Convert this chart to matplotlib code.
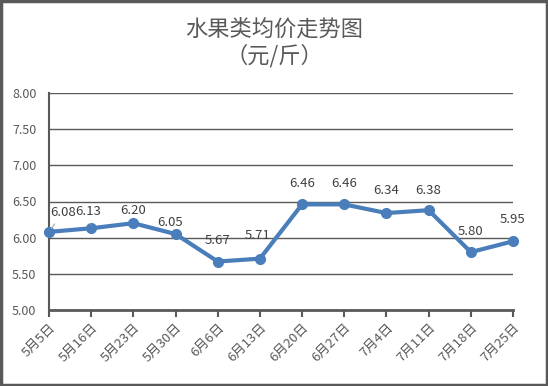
import matplotlib
matplotlib.use("Agg")
import matplotlib.pyplot as plt
from matplotlib.patches import Rectangle

plt.rcParams['font.family'] = ['Noto Sans CJK SC', 'DejaVu Sans']

dates = ["5月5日", "5月16日", "5月23日", "5月30日", "6月6日", "6月13日",
         "6月20日", "6月27日", "7月4日", "7月11日", "7月18日", "7月25日"]
prices = [6.08, 6.13, 6.20, 6.05, 5.67, 5.71, 6.46, 6.46, 6.34, 6.38, 5.80, 5.95]
# label offsets in points (hand placed like the original)
label_off = [(10, 14), (-2, 12), (0, 9), (-4, 8), (0, 15), (-2, 17),
             (0, 15), (0, 15), (0, 16), (0, 14), (0, 15), (0, 16)]

GREY = "#595959"
BLUE = "#4A7EBB"

fig = plt.figure(figsize=(5.48, 3.86), dpi=100)
ax = fig.add_axes([49 / 548, 1 - 310 / 386, (513 - 49) / 548, (310 - 93) / 386])

x = list(range(len(dates)))
ax.plot(x, prices, color=BLUE, lw=3, marker="o", ms=7, zorder=3, clip_on=False)

for i, (v, off) in enumerate(zip(prices, label_off)):
    arrow = None
    if i in (0, 1):
        arrow = dict(arrowstyle="-", color="#A6A6A6", lw=0.8, shrinkA=2, shrinkB=3)
    ax.annotate(f"{v:.2f}", (i, v), xytext=off, textcoords="offset points",
                ha="center", va="center", fontsize=9.5, color="#404040",
                arrowprops=arrow, zorder=4)

ax.set_xlim(0, len(dates) - 1)
ax.set_ylim(5.0, 8.0)
ax.set_yticks([5.0, 5.5, 6.0, 6.5, 7.0, 7.5, 8.0])
ax.set_yticklabels([f"{t:.2f}" for t in ax.get_yticks()], fontsize=9, color=GREY)
ax.set_xticks(x)
ax.set_xticklabels(dates, rotation=45, ha="right", rotation_mode="anchor",
                   fontsize=9.5, color=GREY)
ax.yaxis.grid(True, color=GREY, lw=1)
ax.set_axisbelow(True)
ax.tick_params(axis="y", length=0, pad=9)
ax.tick_params(axis="x", length=5, width=1.5, color=GREY, pad=3)
for s in ("top", "right"):
    ax.spines[s].set_visible(False)
ax.spines["left"].set_color(GREY)
ax.spines["left"].set_linewidth(1.5)
ax.spines["bottom"].set_color(GREY)
ax.spines["bottom"].set_linewidth(2)

fig.text(0.5, 1 - 29 / 386, "水果类均价走势图", ha="center", va="center",
         fontsize=16, color=GREY)
fig.text(0.5, 1 - 56 / 386, "（元/斤）", ha="center", va="center",
         fontsize=16, color=GREY)

fig.patches.append(Rectangle((0.002, 0.003), 0.996, 0.994, transform=fig.transFigure,
                             fill=False, edgecolor=GREY, lw=2.5))

fig.savefig("out.png", dpi=100)
